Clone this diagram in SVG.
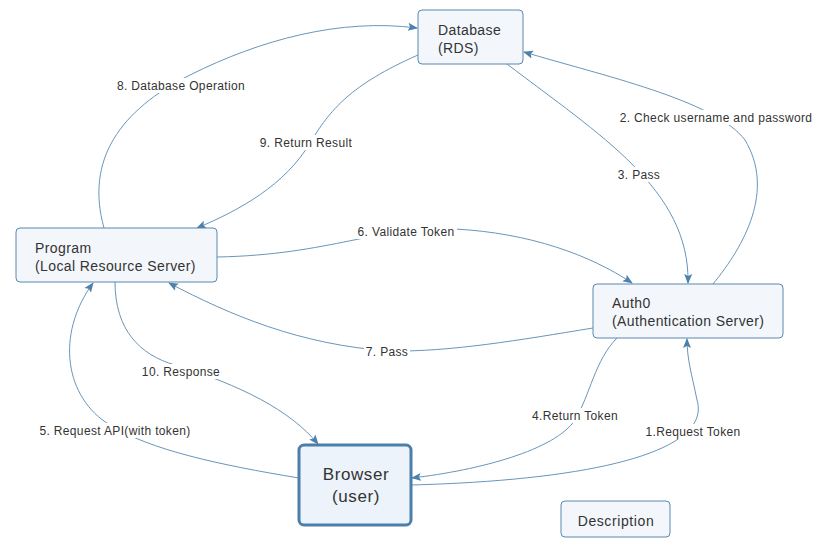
<svg xmlns="http://www.w3.org/2000/svg" width="828" height="547" viewBox="0 0 828 547">
<defs>
<marker id="arr" viewBox="0 0 10 10" refX="9" refY="5" markerWidth="10" markerHeight="10" markerUnits="userSpaceOnUse" orient="auto">
<path d="M0,1 L10,5 L0,9 L2,5 Z" fill="#4d81ab"/>
</marker>
<style>
.node rect{fill:#f3f7fc;stroke:#5a88ae;stroke-width:1}
.node text{font-family:"Liberation Sans",Arial,sans-serif;font-size:14px;fill:#333;letter-spacing:0.4px}
#browser rect{fill:#edf3fa;stroke:#4b7ea8;stroke-width:3}
#browser text{font-size:17px;letter-spacing:0.6px;text-anchor:middle}
#description text{letter-spacing:0.6px;text-anchor:middle}
.edge{fill:none;stroke:#6a95b8;stroke-width:1;marker-end:url(#arr)}
.lbg{fill:#fff}
.lbl{font-family:"Liberation Sans",Arial,sans-serif;font-size:12px;fill:#333;letter-spacing:0.35px;text-anchor:middle}
</style>
</defs>
<rect width="828" height="547" fill="#fff"/>
<g id="connectors">
<path class="edge" d="M411,485 C600,480 712,450 697,400 C692,375 687,360 687,339"/>
<path class="edge" d="M713,284 C745,245 775,190 745,140 C715,100 600,75 524,52"/>
<path class="edge" d="M507,64 C600,135 690,190 688,283"/>
<path class="edge" d="M617,338 C595,360 590,395 575,420 C555,450 480,470 412,478"/>
<path class="edge" d="M299,478 C220,465 150,450 110,425 C65,398 55,335 93,283"/>
<path class="edge" d="M217,257 C330,255 380,225 455,229 C530,233 590,255 632,283"/>
<path class="edge" d="M593,328 C520,340 450,352 390,351 C300,345 230,315 169,283"/>
<path class="edge" d="M104,228 C85,160 120,110 190,75 C260,40 340,18 417,28"/>
<path class="edge" d="M418,55 C350,85 330,110 310,143 C285,185 240,210 197,228"/>
<path class="edge" d="M115,282 C115,330 140,355 175,365 C240,385 290,410 318,444"/>
<rect class="lbg" x="117" y="78" width="128" height="15"/>
<text class="lbl" x="181" y="90">8. Database Operation</text>
<rect class="lbg" x="258" y="135" width="96" height="15"/>
<text class="lbl" x="306" y="147">9. Return Result</text>
<rect class="lbg" x="618" y="110" width="196" height="15"/>
<text class="lbl" x="716" y="122">2. Check username and password</text>
<rect class="lbg" x="616" y="167" width="46" height="15"/>
<text class="lbl" x="639" y="179">3. Pass</text>
<rect class="lbg" x="355" y="224" width="102" height="15"/>
<text class="lbl" x="406" y="236">6. Validate Token</text>
<rect class="lbg" x="364" y="344" width="46" height="15"/>
<text class="lbl" x="387" y="356">7. Pass</text>
<rect class="lbg" x="141" y="364" width="81" height="15"/>
<text class="lbl" x="181" y="376">10. Response</text>
<rect class="lbg" x="38" y="423" width="154" height="15"/>
<text class="lbl" x="115" y="435">5. Request API(with token)</text>
<rect class="lbg" x="532" y="408" width="87" height="15"/>
<text class="lbl" x="575" y="420">4.Return Token</text>
<rect class="lbg" x="645" y="424" width="97" height="15"/>
<text class="lbl" x="693" y="436">1.Request Token</text>
</g>
<g id="database" class="node">
<rect x="418" y="10" width="105" height="54" rx="4"/>
<text x="438" y="35">Database</text>
<text x="438" y="53">(RDS)</text>
</g>
<g id="program" class="node">
<rect x="16" y="228" width="201" height="54" rx="4"/>
<text x="35" y="253">Program</text>
<text x="35" y="271">(Local Resource Server)</text>
</g>
<g id="auth0" class="node">
<rect x="593" y="284" width="190" height="54" rx="4"/>
<text x="612" y="308">Auth0</text>
<text x="612" y="326">(Authentication Server)</text>
</g>
<g id="browser" class="node">
<rect x="299" y="445" width="112" height="80" rx="5"/>
<text x="356" y="480">Browser</text>
<text x="356" y="502">(user)</text>
</g>
<g id="description" class="node">
<rect x="561" y="501" width="109" height="36" rx="4"/>
<text x="616" y="526">Description</text>
</g>
</svg>
